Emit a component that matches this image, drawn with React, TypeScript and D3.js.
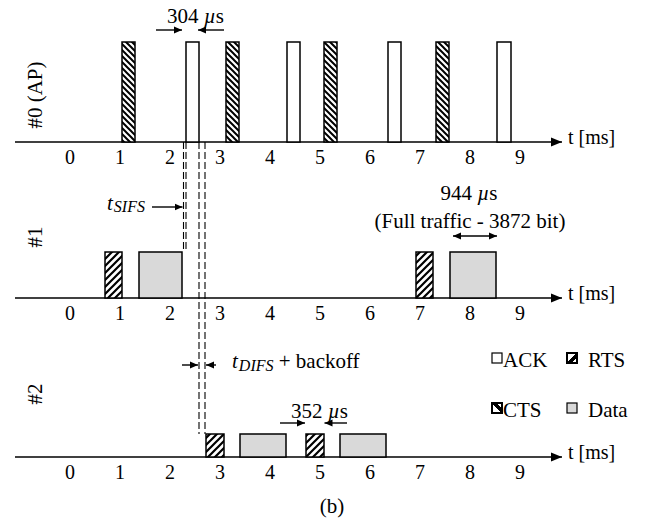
import React, { useRef, useEffect } from 'react';
import * as d3 from 'd3';

// times in ms
const tickLabels = [0, 1, 2, 3, 4, 5, 6, 7, 8, 9];
const rowNames = ['#0 (AP)', '#1', '#2'];

const apFrames = [
  { kind: 'CTS', start: 1.04, end: 1.3 },
  { kind: 'ACK', start: 2.32, end: 2.58 },
  { kind: 'CTS', start: 3.12, end: 3.38 },
  { kind: 'ACK', start: 4.34, end: 4.6 },
  { kind: 'CTS', start: 5.08, end: 5.34 },
  { kind: 'ACK', start: 6.36, end: 6.62 },
  { kind: 'CTS', start: 7.32, end: 7.58 },
  { kind: 'ACK', start: 8.54, end: 8.82 },
];
const sta1Frames = [
  { kind: 'RTS', start: 0.7, end: 1.04 },
  { kind: 'Data', start: 1.38, end: 2.24 },
  { kind: 'RTS', start: 6.92, end: 7.26 },
  { kind: 'Data', start: 7.6, end: 8.52 },
];
const sta2Frames = [
  { kind: 'RTS', start: 2.72, end: 3.08 },
  { kind: 'Data', start: 3.4, end: 4.32 },
  { kind: 'RTS', start: 4.72, end: 5.08 },
  { kind: 'Data', start: 5.4, end: 6.32 },
];
const sifsTimes = [2.27, 2.32];
const difsTimes = [2.58, 2.7];
const legendItems = ['ACK', 'RTS', 'CTS', 'Data'];

const FONT = "'Liberation Serif', 'Times New Roman', serif";

const fillFor = (kind: string) =>
  kind === 'CTS' ? 'url(#hatchCTS)' : kind === 'RTS' ? 'url(#hatchRTS)' : kind === 'Data' ? '#d9d9d9' : '#fff';

const App = () => {
  const svgRef = useRef<SVGSVGElement>(null);

  useEffect(() => {
    const svg = d3.select(svgRef.current);
    svg.selectAll('*').remove();

    const x = d3.scaleLinear().domain([0, 9]).range([70, 520]);

    const rows = [
      { name: rowNames[0], frames: apFrames, axisY: 142, barH: 100, labelY: 95 },
      { name: rowNames[1], frames: sta1Frames, axisY: 298, barH: 46, labelY: 237 },
      { name: rowNames[2], frames: sta2Frames, axisY: 457, barH: 23, labelY: 394 },
    ];

    const defs = svg.append('defs');
    // hatch patterns
    const cts = defs
      .append('pattern')
      .attr('id', 'hatchCTS')
      .attr('patternUnits', 'userSpaceOnUse')
      .attr('width', 6)
      .attr('height', 6);
    cts.append('rect').attr('width', 6).attr('height', 6).attr('fill', '#fff');
    cts
      .append('path')
      .attr('d', 'M0,0 L6,6 M-2,4 L2,8 M4,-2 L8,2')
      .attr('stroke', '#000')
      .attr('stroke-width', 2);
    const rts = defs
      .append('pattern')
      .attr('id', 'hatchRTS')
      .attr('patternUnits', 'userSpaceOnUse')
      .attr('width', 7)
      .attr('height', 7);
    rts.append('rect').attr('width', 7).attr('height', 7).attr('fill', '#fff');
    rts
      .append('path')
      .attr('d', 'M0,7 L7,0 M-2,2 L2,-2 M5,9 L9,5')
      .attr('stroke', '#000')
      .attr('stroke-width', 2.2);

    defs
      .append('marker')
      .attr('id', 'axisHead')
      .attr('markerUnits', 'userSpaceOnUse')
      .attr('markerWidth', 12)
      .attr('markerHeight', 10)
      .attr('refX', 11)
      .attr('refY', 5)
      .attr('orient', 'auto')
      .append('path')
      .attr('d', 'M0,0.5 L11,5 L0,9.5 Z')
      .attr('fill', '#000');
    defs
      .append('marker')
      .attr('id', 'head')
      .attr('markerUnits', 'userSpaceOnUse')
      .attr('markerWidth', 9)
      .attr('markerHeight', 8)
      .attr('refX', 8)
      .attr('refY', 4)
      .attr('orient', 'auto-start-reverse')
      .append('path')
      .attr('d', 'M0,0.5 L8,4 L0,7.5 Z')
      .attr('fill', '#000');

    // axes
    svg
      .selectAll('.axis')
      .data(rows)
      .join('line')
      .attr('class', 'axis')
      .attr('x1', x(-1.1))
      .attr('x2', x(9.84))
      .attr('y1', (d) => d.axisY)
      .attr('y2', (d) => d.axisY)
      .attr('stroke', '#000')
      .attr('stroke-width', 1.5)
      .attr('marker-end', 'url(#axisHead)');

    svg
      .selectAll('.unit')
      .data(rows)
      .join('text')
      .attr('class', 'unit')
      .attr('x', x(9.96))
      .attr('y', (d) => d.axisY + 2)
      .attr('font-family', FONT)
      .attr('font-size', 20)
      .text('t [ms]');

    rows.forEach((row, ri) => {
      svg
        .selectAll('.tick' + ri)
        .data(tickLabels)
        .join('text')
        .attr('class', 'tick' + ri)
        .attr('x', (d) => x(d))
        .attr('y', row.axisY + 22)
        .attr('text-anchor', 'middle')
        .attr('font-family', FONT)
        .attr('font-size', 20)
        .text((d) => d);

      svg
        .append('text')
        .attr('transform', `translate(42,${row.labelY}) rotate(-90)`)
        .attr('text-anchor', 'middle')
        .attr('font-family', FONT)
        .attr('font-size', 21)
        .text(row.name);
    });

    // dashed guides
    const guides = [
      ...sifsTimes.map((t) => ({ t, y1: rows[0].axisY, y2: rows[1].axisY - rows[1].barH - 3 })),
      ...difsTimes.map((t) => ({ t, y1: rows[0].axisY, y2: rows[2].axisY - rows[2].barH })),
    ];
    svg
      .selectAll('.guide')
      .data(guides)
      .join('line')
      .attr('class', 'guide')
      .attr('x1', (d) => x(d.t))
      .attr('x2', (d) => x(d.t))
      .attr('y1', (d) => d.y1)
      .attr('y2', (d) => d.y2)
      .attr('stroke', '#000')
      .attr('stroke-width', 1.1)
      .attr('stroke-dasharray', '7,3');

    // frames
    rows.forEach((row, ri) => {
      svg
        .selectAll('.frame' + ri)
        .data(row.frames)
        .join('rect')
        .attr('class', 'frame' + ri)
        .attr('x', (d) => x(d.start))
        .attr('width', (d) => x(d.end) - x(d.start))
        .attr('y', row.axisY - row.barH)
        .attr('height', row.barH)
        .attr('fill', (d) => fillFor(d.kind))
        .attr('stroke', '#000')
        .attr('stroke-width', 1.5);
    });

    const arrow = (x1: number, y1: number, x2: number, y2: number, both = false) => {
      const l = svg
        .append('line')
        .attr('x1', x1)
        .attr('y1', y1)
        .attr('x2', x2)
        .attr('y2', y2)
        .attr('stroke', '#000')
        .attr('stroke-width', 1.4)
        .attr('marker-end', 'url(#head)');
      if (both) l.attr('marker-start', 'url(#head)');
    };

    const label = (px: number, py: number, size = 21, anchor = 'start') =>
      svg
        .append('text')
        .attr('x', px)
        .attr('y', py)
        .attr('font-family', FONT)
        .attr('font-size', size)
        .attr('text-anchor', anchor);

    const withMicro = (t: d3.Selection<SVGTextElement, unknown, null, undefined>, num: string) => {
      t.append('tspan').text(num + ' ');
      t.append('tspan').attr('font-style', 'italic').text('µ');
      t.append('tspan').text('s');
    };

    // 304 us (ACK length)
    const ack = apFrames[1];
    withMicro(label(167, 23), '304');
    arrow(x(ack.start) - 30, 30, x(ack.start) - 4, 30);
    arrow(x(ack.end) + 25, 30, x(ack.end) - 1, 30);

    // t_SIFS
    const sifs = label(107, 210, 21);
    sifs.append('tspan').attr('font-style', 'italic').text('t');
    sifs.append('tspan').attr('font-style', 'italic').attr('font-size', 16).attr('dy', 2).attr('dx', 1).text('SIFS');
    arrow(152, 207, x(sifsTimes[0]) - 1, 207);

    // 944 us data frame
    const data1 = sta1Frames[3];
    withMicro(label(469, 200, 21, 'middle'), '944');
    label(470, 228, 21, 'middle').text('(Full traffic - 3872 bit)');
    arrow(x(data1.start) + 3, 236, x(data1.end) + 1, 236, true);

    // t_DIFS + backoff
    arrow(x(difsTimes[0]) - 17, 365, x(difsTimes[0]) - 1, 365);
    arrow(x(difsTimes[1]) + 11, 365, x(difsTimes[1]) + 1, 365);
    const difs = label(232, 368, 21);
    difs.append('tspan').attr('font-style', 'italic').text('t');
    difs.append('tspan').attr('font-style', 'italic').attr('font-size', 16).attr('dy', 3).attr('dx', 1).text('DIFS');
    difs.append('tspan').attr('dy', -3).text(' + backoff');

    // 352 us RTS
    const rts2 = sta2Frames[2];
    withMicro(label(291, 418), '352');
    arrow(x(rts2.start) - 26, 423, x(rts2.start) - 1, 423);
    arrow(x(rts2.end) + 23, 423, x(rts2.end) + 0.5, 423);

    // legend
    const legendPos = [
      { bx: 492, by: 353 },
      { bx: 567, by: 353 },
      { bx: 492, by: 403 },
      { bx: 567, by: 403 },
    ];
    legendItems.forEach((name, i) => {
      const p = legendPos[i];
      const g = svg.append('g');
      g.append('rect')
        .attr('x', p.bx)
        .attr('y', p.by)
        .attr('width', 10)
        .attr('height', 10)
        .attr('fill', name === 'Data' ? '#d9d9d9' : '#fff')
        .attr('stroke', '#000')
        .attr('stroke-width', name === 'CTS' || name === 'RTS' ? 2 : 1.2);
      if (name === 'RTS') {
        g.append('path')
          .attr('d', `M${p.bx},${p.by + 10} L${p.bx + 10},${p.by} L${p.bx + 10},${p.by + 4} L${p.bx + 4},${p.by + 10} Z`)
          .attr('fill', '#000')
          .attr('stroke', '#000')
          .attr('stroke-width', 1);
      }
      if (name === 'CTS') {
        g.append('path')
          .attr('d', `M${p.bx},${p.by} L${p.bx + 10},${p.by + 10} L${p.bx + 10},${p.by + 6} L${p.bx + 4},${p.by} Z`)
          .attr('fill', '#000')
          .attr('stroke', '#000')
          .attr('stroke-width', 1);
      }
      label(p.bx + (name === 'ACK' || name === 'CTS' ? 11 : 21), p.by + 14, 21).text(name);
    });

    label(332, 513, 21, 'middle').text('(b)');
  }, []);

  return (
    <svg
      ref={svgRef}
      width={655}
      height={531}
      style={{ position: 'absolute', left: 0, top: 0, background: '#fff' }}
    ></svg>
  );
};

export default App;
